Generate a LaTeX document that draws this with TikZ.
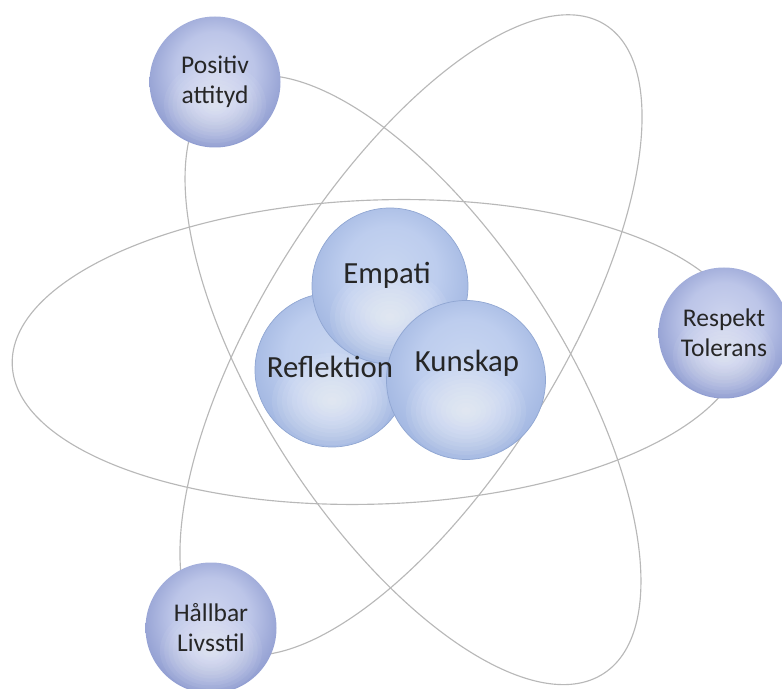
\documentclass[tikz,border=0pt]{standalone}
\usepackage{fontspec}
\setmainfont{Carlito}

\definecolor{orbitgray}{HTML}{B8B8B8}
\definecolor{balledge}{HTML}{8593CB}
\definecolor{ballmid}{HTML}{BCC5E8}
\definecolor{balltop}{HTML}{CDD4EE}
\definecolor{coreedge}{HTML}{9BB1DE}
\definecolor{coremid}{HTML}{BDCDEE}
\definecolor{coretop}{HTML}{C7D5F0}
\definecolor{coreline}{HTML}{90A6D2}
\definecolor{txtgray}{HTML}{262626}

\pgfdeclareradialshading{ballshade}{\pgfpoint{0bp}{6bp}}{color(0bp)=(balltop); color(15bp)=(ballmid); color(31bp)=(balledge); color(50bp)=(balledge)}
\pgfdeclareradialshading{coreshade}{\pgfpoint{0bp}{6bp}}{color(0bp)=(coretop); color(15bp)=(coremid); color(31bp)=(coreedge); color(50bp)=(coreedge)}

\begin{document}
\begin{tikzpicture}[orbit/.style={draw=orbitgray, line width=0.65pt},
  ball/.style={circle, minimum size=2.62cm, inner sep=0pt, shading=ballshade, align=center, text=txtgray, font=\fontsize{14.5}{17}\selectfont,
    path picture={\foreach \k in {1,...,12}
      \fill[white, opacity=0.06] ([yshift=-0.45cm]path picture bounding box.center) ellipse ({0.085cm*\k} and {0.07cm*\k});}},
  core/.style={circle, minimum size=#1, inner sep=0pt, shading=coreshade, draw=coreline, line width=0.4pt,
    path picture={\foreach \k in {1,...,12}
      \fill[white, opacity=0.07] ([yshift=-0.62cm]path picture bounding box.center) ellipse ({0.1cm*\k} and {0.08cm*\k});}},
  coretext/.style={text=txtgray, font=\fontsize{17.5}{20}\selectfont}]
  \useasboundingbox (0,0) rectangle (15.64,13.76);

  % the three orbits
  \foreach \cx/\cy/\ang/\ra/\rb in {7.56/6.72/2/7.32/3.04, 8.22/7.06/58/7.32/2.96, 8.26/6.16/-57/7.00/2.98}
    \draw[orbit, rotate around={\ang:(\cx,\cy)}] (\cx,\cy) ellipse [x radius=\ra, y radius=\rb];

  % outer balls
  \node[ball] (positiv) at (4.30,12.12) {Positiv\\attityd};
  \node[ball] (respekt) at (14.48,7.10) {Respekt\\Tolerans};
  \node[ball] (hallbar) at (4.22,1.20) {Hållbar\\Livsstil};

  % core
  \node[core=3.08cm] (reflektion) at (6.64,6.36) {};
  \node[core=3.12cm] (empati) at (7.80,8.04) {};
  \node[core=3.18cm] (kunskap) at (9.32,6.16) {};
  \node[coretext] at ([shift={(-0.04,0.06)}]reflektion.center) {Reflektion};
  \node[coretext] at ([shift={(-0.06,0.22)}]empati.center) {Empati};
  \node[coretext] at ([shift={(0.02,0.34)}]kunskap.center) {Kunskap};
\end{tikzpicture}
\end{document}
